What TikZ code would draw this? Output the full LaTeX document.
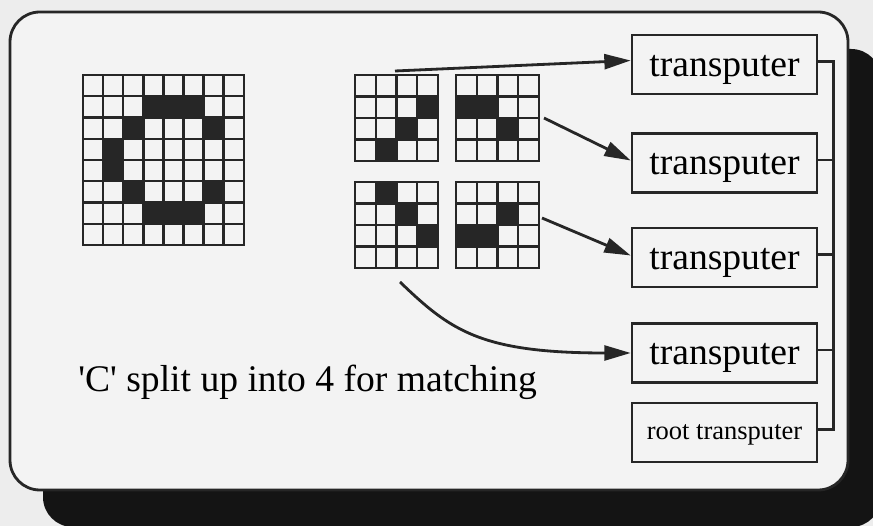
\documentclass[tikz,border=0pt]{standalone}
\usepackage{fontspec}
\setmainfont{Liberation Serif}
\usetikzlibrary{arrows.meta}
\definecolor{paper}{HTML}{EDEDED}
\definecolor{panel}{HTML}{F3F3F3}
\definecolor{ink}{HTML}{262626}
\begin{document}
\begin{tikzpicture}[
        x=0.02cm,
        y=-0.02cm,
        gridline/.style={
            draw=ink,
            line width=1.4pt,
            line cap=rect
        },
        tpbox/.style={
            rectangle,
            draw=ink,
            line width=1.5pt,
            fill=panel,
            minimum width=3.7cm,
            minimum height=1.18cm,
            inner sep=0pt,
            text height=18pt,
            text depth=4.5pt,
            font=\fontsize{21.4}{24}\selectfont
        },
        rootbox/.style={
            tpbox,
            text height=12pt,
            text depth=4.5pt,
            font=\fontsize{15.1}{18}\selectfont
        },
        bus/.style={
            draw=ink,
            line width=1.5pt
        },
        arrow/.style={
            -{Triangle[length=15pt,width=8.5pt]},
            draw=ink,
            line width=1.6pt
        }
    ]

        \useasboundingbox (0,0) rectangle (873,526);
        \clip (0,0) rectangle (873,526);
        \fill[paper] (0,0) rectangle (873,526);
        \fill[black!92, rounded corners=17pt] (43,49) rectangle (881,527);
        \draw[ink, line width=1.6pt, fill=panel, rounded corners=17pt] (10,12) rectangle (848,490);

        \foreach \c/\r in {3/1,4/1,5/1,2/2,6/2,1/3,1/4,2/5,6/5,3/6,4/6,5/6}
            \fill[ink] (83+\c*20.1,75+\r*21.25) rectangle ++(20.1,21.25);
        \foreach \i in {0,...,8} {
            \draw[gridline] (83+\i*20.1,75) -- ++(0,170);
            \draw[gridline] (83,75+\i*21.25) -- ++(160.8,0);
        }

        \foreach \gx/\gy/\cells in {355/75/{3/1,2/2,1/3}, 456/75/{0/1,1/1,2/2}, 355/182/{1/0,2/1,3/2}, 456/182/{2/1,0/2,1/2}} {
            \foreach \c/\r in \cells
                \fill[ink] (\gx+\c*20.75,\gy+\r*21.5) rectangle ++(20.75,21.5);
            \foreach \i in {0,...,4} {
                \draw[gridline] (\gx+\i*20.75,\gy) -- ++(0,86);
                \draw[gridline] (\gx,\gy+\i*21.5) -- ++(83,0);
            }
        }

        \node[tpbox] (tp1) at (724.5,64.5) {transputer};
        \node[tpbox] (tp2) at (724.5,163) {transputer};
        \node[tpbox] (tp3) at (724.5,257.5) {transputer};
        \node[tpbox] (tp4) at (724.5,353) {transputer};
        \node[rootbox] (root) at (724.5,432.5) {root transputer};
        \node[anchor=base west, inner sep=0pt, font=\fontsize{21.4}{24}\selectfont] (caption) at (78,392) {\textquotesingle C\textquotesingle\ split up into 4 for matching};

        \draw[bus] ([yshift=0.06cm]tp1.east) -| ([xshift=0.3cm,yshift=0.06cm]root.east) -- ([yshift=0.06cm]root.east);
        \foreach \n in {tp2,tp3,tp4}
            \draw[bus] ([yshift=0.06cm]\n.east) -- ++(15,0);

        \coordinate (q1) at (395,71);
        \coordinate (q2) at (544,118);
        \coordinate (q3) at (542,218);
        \coordinate (q4) at (400,282);

        \draw[arrow] (q1) -- ([yshift=0.08cm]tp1.west);
        \draw[arrow] (q2) -- ([yshift=0.05cm]tp2.west);
        \draw[arrow] (q3) -- ([yshift=0.04cm]tp3.west);
        \draw[arrow] (q4) .. controls (450,330) and (480,353) .. (tp4.west);

    \end{tikzpicture}
\end{document}
